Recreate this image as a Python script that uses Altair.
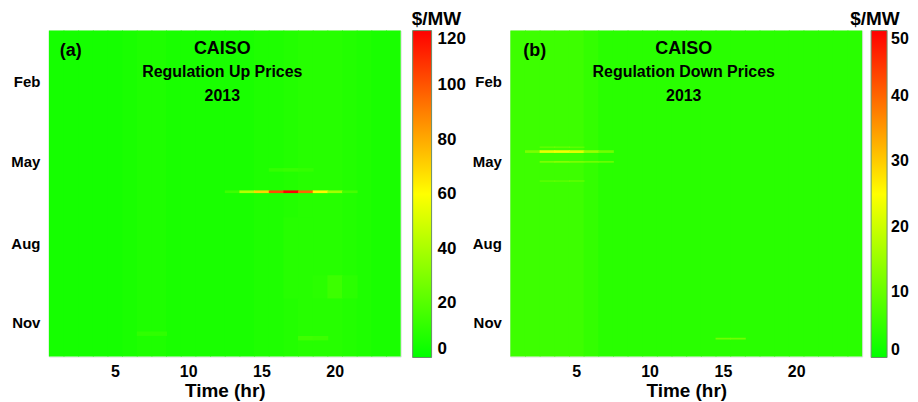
import altair as alt
import pandas as pd

# ---------------- data ----------------
hours = list(range(1, 25))
month_labels = ["Feb", "May", "Aug", "Nov"]
month_ticks = [57, 147, 239, 328]          # day of year where month labels sit
hour_ticks = [5, 10, 15, 20]
up_legend_values = [0, 20, 40, 60, 80, 100, 120]
down_legend_values = [0, 10, 20, 30, 40, 50]

# typical (background) price per hour over the year, $/MW
up_base = [5, 5, 5, 5, 5, 6, 7, 7, 6, 6, 6, 6, 6, 6, 7, 7, 8, 9, 9, 9, 8, 7, 6, 6]
down_base = [6, 6, 6, 6, 6, 5, 4, 4, 4, 4, 4, 4, 4, 4, 4, 4, 4, 4, 4, 4, 4, 4, 4, 4]

# price spikes: hour, first day, last day, $/MW
up_spot_hour = [13, 14, 15, 16, 17, 18, 19, 20, 21,
                16, 17, 18,
                17, 18, 19, 20, 21,
                18, 19, 7, 8]
up_spot_day0 = [180, 180, 180, 180, 180, 180, 180, 180, 180,
                155, 155, 155,
                210, 210, 275, 275, 275,
                343, 343, 338, 338]
up_spot_day1 = [182, 182, 182, 182, 182, 182, 182, 182, 182,
                158, 158, 158,
                300, 300, 300, 300, 300,
                347, 347, 342, 342]
up_spot_value = [14, 42, 70, 102, 120, 96, 62, 38, 16,
                 12, 13, 12,
                 9, 9, 10, 14, 10,
                 15, 14, 11, 11]

down_spot_hour = [2, 3, 4, 5, 6, 7,
                  3, 4, 5,
                  3, 4, 5, 6, 7,
                  3, 4, 5,
                  15, 16]
down_spot_day0 = [135, 135, 135, 135, 135, 135,
                  131, 131, 131,
                  147, 147, 147, 147, 147,
                  169, 169, 169,
                  345, 345]
down_spot_day1 = [137, 137, 137, 137, 137, 137,
                  131, 131, 131,
                  148, 148, 148, 148, 148,
                  169, 169, 169,
                  346, 346]
down_spot_value = [12, 23, 24, 22, 15, 11,
                   12, 12, 12,
                   12, 13, 12, 11, 10,
                   11, 11, 11,
                   11, 11]

FONT = "Liberation Sans"
W, H = 353, 327

label_expr = " : ".join(
    f"datum.value == {v} ? '{l}'" for v, l in zip(month_ticks, month_labels)
) + " : ''"


def frame(base, sh, s0, s1, sv):
    b = pd.DataFrame({"hour": hours, "d0": [1] * len(hours), "d1": [365] * len(hours), "value": base})
    s = pd.DataFrame({"hour": sh, "d0": s0, "d1": s1, "value": sv})
    return b, s


def panel(base, sh, s0, s1, sv, cmax, legend_vals, tag, subtitle, unit_x,
          leg_dx, leg_thick, lab_off, lab_size):
    b, s = frame(base, sh, s0, s1, sv)
    xax = alt.Axis(values=hour_ticks, title="Time (hr)", labelFontSize=16, labelFontWeight="bold",
                   labelColor="black", titleFontSize=19, titleFontWeight="bold", titleColor="black",
                   titlePadding=2, ticks=False, domain=False, grid=False, labelPadding=7,
                   labelFont=FONT, titleFont=FONT, minExtent=0)
    yax = alt.Axis(values=month_ticks, labelExpr=label_expr, title=None, labelFontSize=15,
                   labelFontWeight="bold", labelColor="black", ticks=False, domain=False,
                   grid=False, labelPadding=9, labelFont=FONT, minExtent=0)
    color = alt.Color(
        "value:Q",
        scale=alt.Scale(domain=[0, cmax / 2, cmax], range=["#00ff00", "#ffff00", "#ff0000"],
                        interpolate="rgb", clamp=True),
        legend=alt.Legend(orient="none", legendX=W + leg_dx, legendY=0, direction="vertical",
                          gradientLength=H + 1, gradientThickness=leg_thick, title=None,
                          values=legend_vals,
                          labelExpr="datum.value == 0 ? '\u00a0\u00a0' + datum.label : datum.label",
                          labelFontSize=lab_size, labelFontWeight="bold", labelColor="black",
                          labelFont=FONT, labelOffset=lab_off, labelAlign="left",
                          labelBaseline="middle", labelOverlap=False, padding=0,
                          gradientStrokeColor="#6a8f6a", gradientStrokeWidth=1),
    )

    def rects(df):
        return alt.Chart(df).transform_calculate(
            x0="datum.hour - 0.5", x1="min(datum.hour + 0.56, 24.5)",
            y0="datum.d0 - 0.5", y1="datum.d1 + 0.5",
        ).mark_rect(strokeWidth=0).encode(
            x=alt.X("x0:Q", scale=alt.Scale(domain=[0.5, 24.5], nice=False, zero=False), axis=xax),
            x2="x1:Q",
            y=alt.Y("y0:Q", scale=alt.Scale(domain=[0.5, 365.5], reverse=True, nice=False, zero=False), axis=yax),
            y2="y1:Q",
            color=color,
        )

    one = pd.DataFrame({"k": [0]})

    def txt(t, x, y, size, align="center"):
        return alt.Chart(one).mark_text(
            text=t, font=FONT, fontSize=size, fontWeight="bold", color="black",
            align=align, baseline="middle",
        ).encode(x=alt.value(x), y=alt.value(y))

    layers = [
        rects(b), rects(s),
        txt(tag, 11 if tag == "(a)" else 13, 21, 18, "left"),
        txt("CAISO", 174, 18, 18),
        txt(subtitle, 174, 42, 16),
        txt("2013", 174, 66, 16),
        txt("$/MW", unit_x, -12, 19, "left"),
    ]
    return alt.layer(*layers).properties(width=W, height=H)


left = panel(up_base, up_spot_hour, up_spot_day0, up_spot_day1, up_spot_value,
             120, up_legend_values, "(a)", "Regulation Up Prices", 364,
             12, 19, 6, 17)
right = panel(down_base, down_spot_hour, down_spot_day0, down_spot_day1, down_spot_value,
              50, down_legend_values, "(b)", "Regulation Down Prices", 341,
              9, 16, 4, 16)

chart = alt.hconcat(left, right, spacing=4).resolve_scale(color="independent").properties(
    padding={"left": 2, "top": 0, "right": 0, "bottom": 0}
).configure_view(
    stroke="#3d8b3d", strokeWidth=1, fill="#22ff00"
).configure(background="white")

chart.save("out.html", embed_options={"renderer": "svg", "actions": False})
